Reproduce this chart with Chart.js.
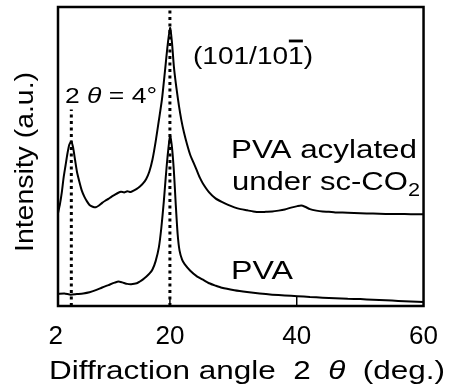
<!DOCTYPE html>
<html>
<head>
<meta charset="utf-8">
<script src="https://cdn.jsdelivr.net/npm/chart.js"></script>
<style>
    html, body { margin: 0; padding: 0; background: #fff; }
    #xrd { display: block; }
</style>
</head>
<body>
<canvas id="xrd" width="453" height="387"></canvas>
<script>
// 数据：衍射角 2θ (deg.) 和强度 (a.u.)
var xTicks = [2, 20, 40, 60];

var acylAngle = [2.35, 2.65, 2.95, 3.24, 3.54, 3.84, 4.14, 4.44, 4.73, 5.03, 5.33, 5.73, 6.12, 6.52, 6.92, 7.32, 7.82, 8.31, 8.81, 9.31,
    9.80, 10.30, 10.80, 11.29, 11.79, 12.29, 12.78, 13.28, 13.78, 14.27, 14.77, 15.27, 15.76, 16.26, 16.76, 17.25, 17.75, 18.25, 18.74, 19.24,
    19.63, 20.03, 20.33, 20.63, 21.02, 21.42, 21.82, 22.22, 22.71, 23.21, 23.71, 24.21, 24.70, 25.20, 26.19, 27.19, 28.18, 29.18, 30.17, 31.16,
    32.16, 33.15, 34.15, 35.14, 36.13, 37.13, 38.12, 39.11, 40.11, 40.70, 41.30, 42.09, 43.09, 44.08, 45.07, 46.07, 48.05, 50.04, 52.03, 54.02,
    56.01, 58.00, 60.00];
var acylIntensity = [31.0, 34.0, 38.0, 43.0, 47.0, 51.0, 54.0, 55.0, 53.0, 49.0, 45.0, 41.5, 38.5, 36.5, 35.0, 33.8, 33.2, 33.0, 33.6, 34.5,
    35.2, 35.8, 36.6, 37.2, 37.8, 38.2, 38.0, 38.4, 38.1, 38.6, 39.2, 40.0, 41.0, 42.5, 45.0, 49.0, 55.0, 62.0, 69.0, 79.0,
    87.0, 93.0, 88.0, 80.0, 73.0, 67.0, 62.0, 58.0, 54.0, 50.5, 48.0, 45.5, 43.0, 41.0, 38.0, 36.0, 34.8, 33.8, 33.0, 32.4,
    32.0, 31.6, 31.4, 31.5, 31.6, 31.9, 32.3, 32.9, 33.4, 33.6, 33.2, 32.4, 31.9, 31.6, 31.5, 31.3, 31.2, 31.0, 30.9, 30.8,
    30.8, 30.7, 30.7];

var pvaAngle = [2.35, 3.34, 4.34, 5.33, 6.32, 7.32, 8.31, 9.31, 10.30, 11.29, 11.89, 12.48, 13.28, 13.88, 14.77, 15.27, 15.76, 16.26, 16.76, 17.25,
    17.75, 18.25, 18.64, 19.04, 19.34, 19.63, 20.03, 20.33, 20.63, 20.92, 21.22, 21.52, 21.92, 22.32, 23.21, 24.21, 25.20, 26.19, 27.19, 28.18,
    30.17, 32.16, 34.15, 36.13, 38.12, 40.11, 42.09, 44.08, 46.07, 48.05, 50.04, 52.03, 54.02, 56.01, 58.00, 60.00];
var pvaIntensity = [4.0, 4.2, 3.8, 4.0, 4.2, 4.6, 5.3, 6.2, 7.0, 7.8, 8.2, 7.9, 7.4, 7.3, 7.6, 8.2, 8.9, 9.8, 10.8, 12.2,
    15.0, 19.5, 26.0, 35.0, 43.0, 50.0, 57.0, 53.0, 45.0, 34.0, 24.0, 18.5, 15.5, 14.0, 11.8, 10.0, 8.8, 7.6, 6.8, 6.1,
    5.3, 4.7, 4.2, 3.8, 3.5, 3.3, 3.0, 2.8, 2.6, 2.4, 2.3, 2.1, 1.9, 1.7, 1.5, 1.3];

// 参考虚线 (2θ = 4° 和 101/10-1 峰)
var markAngle = [4.45, 20];
var markTop = [65.7, 100];

var FONT = "'Liberation Sans', Arial, sans-serif";

function toPoints(xs, ys) {
    var pts = [];
    for (var i = 0; i < xs.length; i++) {
        pts.push({ x: xs[i], y: ys[i] });
    }
    return pts;
}

// 画一段混合字体的文字，横向拉伸到指定宽度
function drawParts(ctx, parts, x, y, size, width, angle) {
    var natural = 0;
    var i, p, f;
    for (i = 0; i < parts.length; i++) {
        p = parts[i];
        f = p.sub ? size * 0.7 : size;
        ctx.font = (p.it ? 'italic ' : '') + f + 'px ' + FONT;
        natural += ctx.measureText(p.t).width;
    }
    var sx = width ? width / natural : 1;
    ctx.save();
    ctx.translate(x, y);
    if (angle) ctx.rotate(angle);
    ctx.scale(sx, 1);
    ctx.fillStyle = '#000';
    ctx.strokeStyle = '#000';
    ctx.textAlign = 'left';
    ctx.textBaseline = 'alphabetic';
    var cx = 0;
    for (i = 0; i < parts.length; i++) {
        p = parts[i];
        f = p.sub ? size * 0.7 : size;
        ctx.font = (p.it ? 'italic ' : '') + f + 'px ' + FONT;
        var w = ctx.measureText(p.t).width;
        ctx.fillText(p.t, cx, p.sub ? size * 0.25 : 0);
        if (p.bar) {
            // 上划线 (晶面指数的负号)
            ctx.lineWidth = 2.8;
            ctx.beginPath();
            ctx.moveTo(cx + w * 0.05, -size * 0.98);
            ctx.lineTo(cx + w * 0.95, -size * 0.98);
            ctx.stroke();
        }
        cx += w;
    }
    ctx.restore();
}

// 边框、内向刻度和标注文字
var decorPlugin = {
    id: 'decor',
    afterDatasetsDraw: function(chart) {
        var ctx = chart.ctx;
        var a = chart.chartArea;
        var xs = chart.scales.x;

        ctx.save();
        ctx.strokeStyle = '#000';
        ctx.lineWidth = 2.5;
        ctx.strokeRect(a.left, a.top, a.right - a.left, a.bottom - a.top);

        ctx.lineWidth = 1.5;
        for (var i = 1; i < xTicks.length - 1; i++) {
            var px = xs.getPixelForValue(xTicks[i]);
            ctx.beginPath();
            ctx.moveTo(px, a.bottom);
            ctx.lineTo(px, a.bottom - 9);
            ctx.stroke();
        }
        ctx.restore();

        drawParts(ctx, [{ t: '(101/10' }, { t: '1', bar: true }, { t: ')' }], 193, 64, 23.5, 120);
        drawParts(ctx, [{ t: '2 ' }, { t: '\u03B8', it: true }, { t: ' = 4\u00B0' }], 65, 103, 22, 92);
        drawParts(ctx, [{ t: 'PVA acylated' }], 231, 158, 25.5, 186);
        drawParts(ctx, [{ t: 'under sc-CO' }, { t: '2', sub: true }], 232, 190, 25.5, 188);
        drawParts(ctx, [{ t: 'PVA' }], 231, 279, 25.5, 62);
        drawParts(ctx, [{ t: 'Diffraction angle  2  ' }, { t: '\u03B8', it: true }, { t: '  (deg.)' }], 49, 379, 25, 396);
        drawParts(ctx, [{ t: 'Intensity (a.u.)' }], 33, 252, 26, 180, -Math.PI / 2);
    }
};

var datasets = [
    {
        data: toPoints(acylAngle, acylIntensity),
        borderColor: '#000',
        borderWidth: 2,
        pointRadius: 0,
        tension: 0.2
    },
    {
        data: toPoints(pvaAngle, pvaIntensity),
        borderColor: '#000',
        borderWidth: 2,
        pointRadius: 0,
        tension: 0.2
    }
];

for (var m = 0; m < markAngle.length; m++) {
    datasets.push({
        data: [{ x: markAngle[m], y: 0 }, { x: markAngle[m], y: markTop[m] }],
        borderColor: '#000',
        borderWidth: 3,
        borderDash: [3, 3.5],
        pointRadius: 0
    });
}

var chart = new Chart(document.getElementById('xrd'), {
    type: 'line',
    data: { datasets: datasets },
    options: {
        responsive: false,
        devicePixelRatio: 1,
        animation: false,
        layout: { padding: { top: 7, right: 19, left: 0, bottom: 0 } },
        plugins: {
            legend: { display: false },
            tooltip: { enabled: false }
        },
        scales: {
            x: {
                type: 'linear',
                min: 2.35,
                max: 60,
                grid: { display: false, drawTicks: false },
                border: { display: false },
                ticks: {
                    color: '#000',
                    padding: 15,
                    maxRotation: 0,
                    autoSkip: false,
                    font: { family: FONT, size: 26 }
                },
                afterBuildTicks: function(scale) {
                    scale.ticks = xTicks.map(function(v) { return { value: v }; });
                },
                afterFit: function(scale) {
                    scale.height = 81;
                }
            },
            y: {
                min: 0,
                max: 100,
                grid: { display: false, drawTicks: false },
                border: { display: false },
                ticks: { display: false },
                afterFit: function(scale) {
                    scale.width = 58;
                }
            }
        }
    },
    plugins: [decorPlugin]
});
</script>
</body>
</html>
